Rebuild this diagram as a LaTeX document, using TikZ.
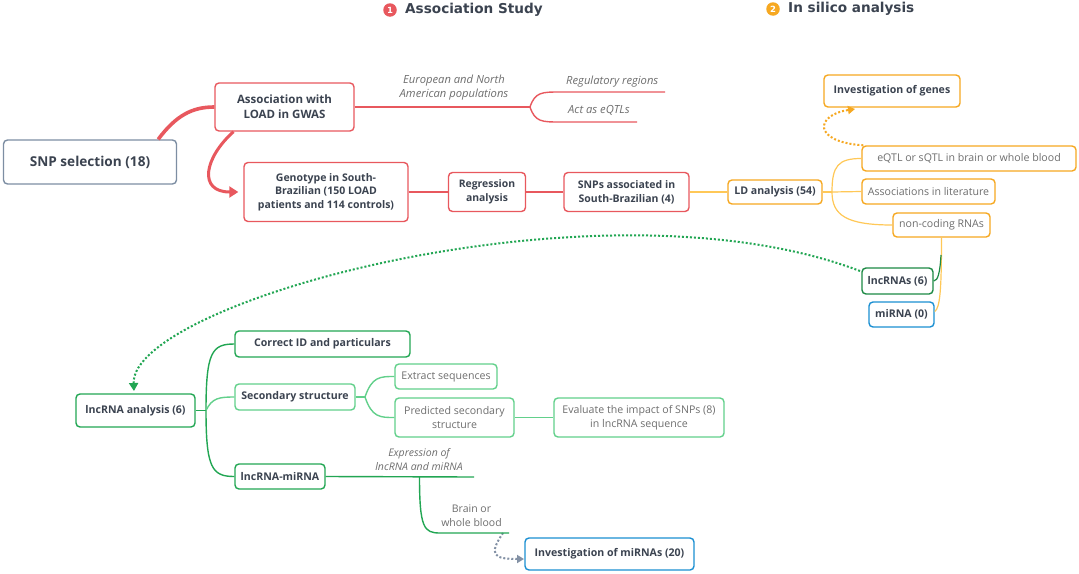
\documentclass[tikz,border=0pt]{standalone}
\usepackage{fontspec}
\setmainfont{Open Sans}
\newfontfamily\hdfont{DejaVu Sans}
\usetikzlibrary{arrows.meta}
\definecolor{cred}{HTML}{E8585E}
\definecolor{cgray}{HTML}{7D8EA3}
\definecolor{ctext}{HTML}{3B4350}
\definecolor{clab}{HTML}{6E6E6E}
\definecolor{corange}{HTML}{F6A821}
\definecolor{cyel}{HTML}{FFC857}
\definecolor{cgreen}{HTML}{22A653}
\definecolor{cdgreen}{HTML}{1D8A45}
\definecolor{clgreen}{HTML}{62D08B}
\definecolor{cblue}{HTML}{1B8FD2}
\definecolor{cdot}{HTML}{8391A5}
\tikzset{
  box/.style={draw, rounded corners=4pt, line width=1.4pt, fill=white, inner sep=0pt,
    align=center, text=ctext, font=\bfseries\fontsize{10.6}{14}\selectfont},
  lbox/.style={box, text=clab, font=\fontsize{10.6}{14}\selectfont},
  lab/.style={align=center, text=clab, inner sep=0pt, font=\itshape\fontsize{11.2}{14}\selectfont},
  rl/.style={draw=cred, line width=1.4pt},
  yl/.style={draw=cyel, line width=1.2pt},
  gl/.style={draw=cgreen, line width=1.4pt},
  lgl/.style={draw=clgreen, line width=1.4pt},
  dotl/.style={line width=2pt, dash pattern=on 2pt off 2pt},
  hd/.style={text=ctext, inner sep=0pt, anchor=west, font=\hdfont\bfseries\fontsize{13.6}{15}\selectfont},
  num/.style={circle, inner sep=0pt, minimum size=13.5pt, text=white, font=\hdfont\bfseries\fontsize{8.5}{8.5}\selectfont}
}
\begin{document}
\begin{tikzpicture}[x=1pt,y=-1pt]
\useasboundingbox[fill=white] (0,0) rectangle (1079,573);

% headers
\node[num, fill=cred] (n1) at (390,10) {1};
\node[hd] (h1) at (405,10) {Association Study};
\node[num, fill=corange] (n2) at (773,9) {2};
\node[hd] (h2) at (788,9) {In silico analysis};

% association study nodes
\node[box, draw=cgray, minimum width=173pt, minimum height=44pt, font=\bfseries\fontsize{13.6}{16}\selectfont] (snp) at (90,162) {SNP selection (18)};
\node[box, draw=cred, minimum width=139pt, minimum height=48pt, font=\bfseries\fontsize{11.5}{15}\selectfont] (assoc) at (284.5,107) {Association with\\LOAD in GWAS};
\node[box, draw=cred, minimum width=164pt, minimum height=59pt, font=\bfseries\fontsize{10.5}{13.5}\selectfont] (geno) at (326,192) {Genotype in South-\\Brazilian (150 LOAD\\patients and 114 controls)};
\node[box, draw=cred, minimum width=77pt, minimum height=39pt, font=\bfseries\fontsize{10.4}{14}\selectfont] (reg) at (487,192) {Regression\\analysis};
\node[box, draw=cred, minimum width=125pt, minimum height=39pt, font=\bfseries\fontsize{10.5}{14}\selectfont] (sa) at (626.5,192) {SNPs associated in\\South-Brazilian (4)};

% in silico nodes
\node[box, draw=corange, minimum width=94pt, minimum height=24pt] (ld) at (775,192) {LD analysis (54)};
\node[box, draw=corange, minimum width=136pt, minimum height=32pt] (genes) at (892,91) {Investigation of genes};
\node[lbox, draw=corange, minimum width=214pt, minimum height=25pt] (eqtl) at (969,158.5) {eQTL or sQTL in brain or whole blood};
\node[lbox, draw=corange, minimum width=133pt, minimum height=25pt] (lit) at (928.5,191.5) {Associations in literature};
\node[lbox, draw=corange, minimum width=97pt, minimum height=24pt] (nc) at (941.5,225) {non-coding RNAs};
\node[box, draw=cdgreen, minimum width=71pt, minimum height=26pt] (lnc) at (897.5,281) {lncRNAs (6)};
\node[box, draw=cblue, minimum width=65pt, minimum height=25pt] (mir) at (901.5,314.5) {miRNA (0)};

% lncRNA nodes
\node[box, draw=cgreen, minimum width=119pt, minimum height=33pt] (la) at (135.5,410.5) {lncRNA analysis (6)};
\node[box, draw=cgreen, minimum width=175pt, minimum height=26pt] (cid) at (322.5,344) {Correct ID and particulars};
\node[box, draw=clgreen, minimum width=120pt, minimum height=26pt] (sec) at (295,397) {Secondary structure};
\node[box, draw=cgreen, minimum width=90pt, minimum height=25pt] (lm) at (280,476.5) {lncRNA-miRNA};
\node[lbox, draw=clgreen, minimum width=102pt, minimum height=25pt] (ext) at (446,376.5) {Extract sequences};
\node[lbox, draw=clgreen, minimum width=119pt, minimum height=39pt] (pred) at (454.5,417.5) {Predicted secondary\\structure};
\node[lbox, draw=clgreen, minimum width=170pt, minimum height=39pt] (eval) at (639,417.5) {Evaluate the impact of SNPs (8)\\in lncRNA sequence};
\node[box, draw=cblue, minimum width=169pt, minimum height=32pt] (imir) at (609.5,554) {Investigation of miRNAs (20)};

% labels
\node[lab] (eu) at (454,88) {European and North\\American populations};
\node[lab, anchor=west] (rr) at (566,82) {Regulatory regions};
\node[lab, anchor=west] (ae) at (568,110) {Act as eQTLs};
\node[lab, font=\itshape\fontsize{10.5}{13.5}\selectfont] (ex) at (419,459.5) {Expression of\\lncRNA and miRNA};
\node[lab, font=\fontsize{10.5}{13.5}\selectfont] (bw) at (471.5,515.5) {Brain or\\whole blood};

% coordinates
\coordinate (f1) at (530,107);
\coordinate (rrend) at (665,92);
\coordinate (aeend) at (637,122);
\coordinate (f2) at (832,192);
\coordinate (f3) at (206,410.5);
\coordinate (f4) at (365,397);
\coordinate (exend) at (474,477);
\coordinate (b1) at (419.5,477);
\coordinate (bwend) at (509,533);
\coordinate (gtip) at (855,109);
\coordinate (mtip) at (524,559);
\coordinate (lstart) at (860,271);
\coordinate (latip) at (134,391);
\coordinate (nc1) at (941,255);

% thick red connectors
\draw[draw=cred, line width=3.6pt] ([xshift=-19pt]snp.north east) .. controls +(18,-24) and +(-22,0) .. (assoc.west);
\draw[draw=cred, line width=3pt, -{Triangle[length=9pt,width=11pt]}, shorten >=5pt] ([xshift=-51pt]assoc.south) .. controls (204,158) and (198,192) .. (geno.west);

% red thin
\draw[rl] (assoc.east) -- (f1);
\draw[rl] (f1) .. controls (535,92) and (542,92) .. (560,92) -- (rrend);
\draw[rl] (f1) .. controls (535,122) and (542,122) .. (560,122) -- (aeend);
\draw[rl] (geno.east) -- (reg.west);
\draw[rl] (reg.east) -- (sa.west);

% yellow
\draw[yl] (sa.east) -- (ld.west);
\draw[yl] (ld.east) -- (f2);
\draw[yl] (f2) .. controls (832,166) and (838,158.5) .. (eqtl.west);
\draw[yl] (f2) -- (lit.west);
\draw[yl] (f2) .. controls (832,215) and (846,225) .. (nc.west);
\draw[yl] (nc.south) .. controls (941.5,290) and (940,308) .. ([yshift=3pt]mir.east);
\draw[draw=cdgreen, line width=1.2pt] (nc1) .. controls (940,272) and (938,281) .. (lnc.east);

% dotted arrows
\draw[draw=corange, dotl, -{Triangle[length=7pt,width=8pt]}] ([xshift=2pt]eqtl.north west) .. controls (812,142) and (815,115) .. (gtip);
\draw[draw=cgreen, dotl, -{Triangle[length=8pt,width=9pt]}] (lstart) .. controls (600,172) and (130,302) .. (latip);
\draw[draw=cdot, dotl, -{Triangle[length=7pt,width=8pt]}] ([xshift=-6pt]bwend) .. controls (488,555) and (494,559) .. (mtip);

% green
\draw[gl] (la.east) -- (f3);
\draw[gl] (f3) .. controls (206,352) and (212,344) .. (cid.west);
\draw[lgl] (f3) .. controls (212,398) and (219,397) .. (sec.west);
\draw[gl] (f3) .. controls (206,468) and (212,476.5) .. (lm.west);
\draw[lgl] (sec.east) -- (f4);
\draw[lgl] (f4) .. controls (372,376.5) and (380,376.5) .. (ext.west);
\draw[lgl] (f4) .. controls (372,417.5) and (380,417.5) .. (pred.west);
\draw[lgl] (pred.east) -- (eval.west);
\draw[gl] (lm.east) -- (exend);
\draw[gl] (b1) .. controls (419.5,528) and (424,533) .. (440,533) -- (bwend);
\end{tikzpicture}
\end{document}
